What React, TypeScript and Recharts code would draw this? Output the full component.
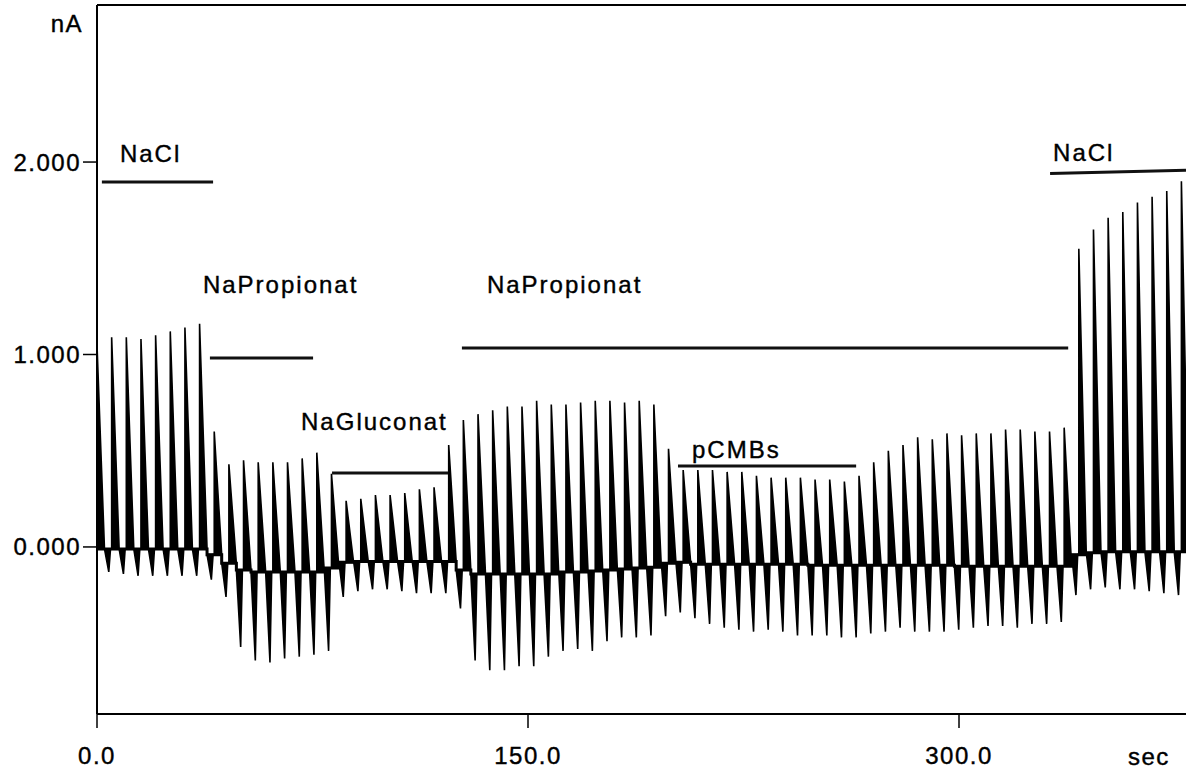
import React from 'react';
import {
  ComposedChart,
  Area,
  Line,
  XAxis,
  YAxis,
  ReferenceLine
} from 'recharts';

// stimulation period of the voltage protocol (sec)
const PERIOD = 5.1;

// peak of the positive current transient per pulse (nA)
const PEAKS = [
  1.05, 1.09, 1.09, 1.08, 1.1, 1.12, 1.14, 1.16, 0.6, 0.43,
  0.45, 0.44, 0.44, 0.44, 0.46, 0.49, 0.38, 0.24, 0.25, 0.27,
  0.27, 0.28, 0.3, 0.31, 0.53, 0.66, 0.69, 0.71, 0.73, 0.73,
  0.76, 0.74, 0.74, 0.75, 0.76, 0.76, 0.75, 0.76, 0.74, 0.51,
  0.4, 0.4, 0.4, 0.39, 0.39, 0.37, 0.36, 0.36, 0.36, 0.35,
  0.35, 0.34, 0.37, 0.44, 0.5, 0.53, 0.57, 0.56, 0.59, 0.58,
  0.59, 0.59, 0.61, 0.61, 0.6, 0.6, 0.62, 1.55, 1.65, 1.71,
  1.74, 1.79, 1.82, 1.85, 1.9
];

// tip of the negative transient just before each pulse (nA)
const TROUGHS: (number | null)[] = [
  null, -0.13, -0.14, -0.15, -0.15, -0.15, -0.15, -0.15, -0.17, -0.26,
  -0.52, -0.59, -0.6, -0.58, -0.57, -0.56, -0.54, -0.26, -0.23, -0.22,
  -0.22, -0.23, -0.24, -0.24, -0.24, -0.32, -0.59, -0.64, -0.64, -0.62,
  -0.62, -0.57, -0.54, -0.53, -0.54, -0.49, -0.47, -0.47, -0.46, -0.36,
  -0.34, -0.37, -0.4, -0.42, -0.43, -0.44, -0.43, -0.44, -0.46, -0.46,
  -0.46, -0.47, -0.47, -0.45, -0.44, -0.42, -0.44, -0.44, -0.44, -0.43,
  -0.42, -0.41, -0.41, -0.42, -0.4, -0.4, -0.39, -0.25, -0.22, -0.21,
  -0.22, -0.22, -0.23, -0.24, -0.25
];

// holding current between pulses (nA)
const BASELINE = [
  -0.01, -0.01, -0.01, -0.01, -0.01, -0.01, -0.01, -0.01, -0.04, -0.085,
  -0.12, -0.13, -0.13, -0.13, -0.13, -0.13, -0.11, -0.08, -0.075, -0.075,
  -0.075, -0.075, -0.075, -0.075, -0.075, -0.12, -0.14, -0.14, -0.14, -0.14,
  -0.14, -0.14, -0.13, -0.13, -0.125, -0.12, -0.115, -0.11, -0.105, -0.085,
  -0.08, -0.09, -0.09, -0.09, -0.09, -0.09, -0.09, -0.09, -0.09, -0.095,
  -0.095, -0.095, -0.095, -0.095, -0.095, -0.095, -0.095, -0.095, -0.095, -0.1,
  -0.1, -0.1, -0.1, -0.1, -0.1, -0.1, -0.1, -0.04, -0.03, -0.025,
  -0.025, -0.025, -0.025, -0.025, -0.025
];

// bath solutions (bars above the trace)
const SOLUTIONS = ['NaCl', 'NaPropionat', 'NaGluconat', 'NaPropionat', 'pCMBs', 'NaCl'];
const SOL_START = [1.7, 39.3, 81.8, 127.0, 202.2, 331.7];
const SOL_END = [40.4, 75.2, 122.2, 338.0, 264.2, 379];
const SOL_LEVEL_START = [1.896, 0.982, 0.384, 1.034, 0.421, 1.94];
const SOL_LEVEL_END = [1.896, 0.982, 0.384, 1.034, 0.421, 1.958];

const X_TICKS = [0, 150, 300];
const Y_TICKS = [0, 1, 2];
const X_DOMAIN: [number, number] = [0, 379];
const Y_DOMAIN: [number, number] = [-0.868, 2.816];

// label offsets from the left end of each bar (px)
const LABEL_OFFSETS = [
  [18, -20],
  [-7, -65],
  [-31, -43],
  [25, -55],
  [14, -8],
  [3, -9]
];

const FONT = '"Liberation Sans", Arial, sans-serif';

type Pt = { t: number; range: [number, number]; base: number };

const trace: Pt[] = [];
PEAKS.forEach((peak, i) => {
  const t0 = i * PERIOD;
  const b = BASELINE[i];
  const tr = TROUGHS[i];
  if (tr !== null) {
    trace.push({ t: t0 - 2.5, range: [b, b], base: b });
    trace.push({ t: t0 - 1.0, range: [tr, b], base: b });
    trace.push({ t: t0 - 0.4, range: [b, b], base: b });
  }
  trace.push({ t: t0, range: [b, b], base: b });
  trace.push({ t: t0, range: [b, peak], base: b });
  trace.push({ t: t0 + 2.6, range: [b, b], base: b });
});

const tickStyle = {
  fill: '#000',
  stroke: '#000',
  strokeWidth: 0.4,
  fontSize: 24,
  fontFamily: FONT,
  letterSpacing: 1.5
};

const App: React.FC = () => {
  return (
    <div style={{ position: 'absolute', left: 0, top: 0, width: 1186, height: 769, background: '#fff' }}>
      <ComposedChart
        width={1186}
        height={769}
        data={trace}
        margin={{ top: 5, right: 0, bottom: 0, left: 0 }}
      >
        <XAxis
          dataKey="t"
          type="number"
          domain={X_DOMAIN}
          ticks={X_TICKS}
          interval={0}
          allowDataOverflow
          height={55}
          tickSize={14}
          tickMargin={19}
          tickFormatter={(v: number) => v.toFixed(1)}
          axisLine={{ stroke: '#000', strokeWidth: 2 }}
          tickLine={{ stroke: '#000', strokeWidth: 1.5 }}
          tick={tickStyle}
        />
        <YAxis
          type="number"
          domain={Y_DOMAIN}
          ticks={Y_TICKS}
          interval={0}
          allowDataOverflow
          width={97}
          tickSize={14}
          tickMargin={2}
          tickFormatter={(v: number) => v.toFixed(3)}
          axisLine={{ stroke: '#000', strokeWidth: 2 }}
          tickLine={{ stroke: '#000', strokeWidth: 1.5 }}
          tick={tickStyle}
        />
        <ReferenceLine y={Y_DOMAIN[1]} stroke="#000" strokeWidth={2} ifOverflow="visible" />
        <Area
          type="linear"
          dataKey="range"
          stroke="#000"
          strokeWidth={1.6}
          fill="#000"
          fillOpacity={1}
          isAnimationActive={false}
          dot={false}
          activeDot={false}
        />
        <Line
          type="linear"
          dataKey="base"
          stroke="#000"
          strokeWidth={3}
          dot={false}
          activeDot={false}
          isAnimationActive={false}
        />
        {SOLUTIONS.map((name, i) => (
          <ReferenceLine
            key={i}
            segment={[
              { x: SOL_START[i], y: SOL_LEVEL_START[i] },
              { x: SOL_END[i], y: SOL_LEVEL_END[i] }
            ]}
            stroke="#111"
            strokeWidth={3}
            ifOverflow="visible"
            label={(p: any) => {
              const vb = p && p.viewBox;
              if (!vb) return null;
              return (
                <text
                  x={vb.x + LABEL_OFFSETS[i][0]}
                  y={vb.y + LABEL_OFFSETS[i][1]}
                  fill="#000"
                  stroke="#000"
                  strokeWidth={0.4}
                  fontSize={24}
                  fontFamily={FONT}
                  letterSpacing={2}
                >
                  {name}
                </text>
              );
            }}
          />
        ))}
      </ComposedChart>
      <svg
        width={1186}
        height={769}
        style={{ position: 'absolute', left: 0, top: 0, pointerEvents: 'none' }}
      >
        <text x={83} y={32} textAnchor="end" fontSize={24} fontFamily={FONT} letterSpacing={1.5} fill="#000" stroke="#000" strokeWidth={0.4}>
          nA
        </text>
        <text x={1128} y={765} fontSize={24} fontFamily={FONT} letterSpacing={1.5} fill="#000" stroke="#000" strokeWidth={0.4}>
          sec
        </text>
      </svg>
    </div>
  );
};

export default App;
